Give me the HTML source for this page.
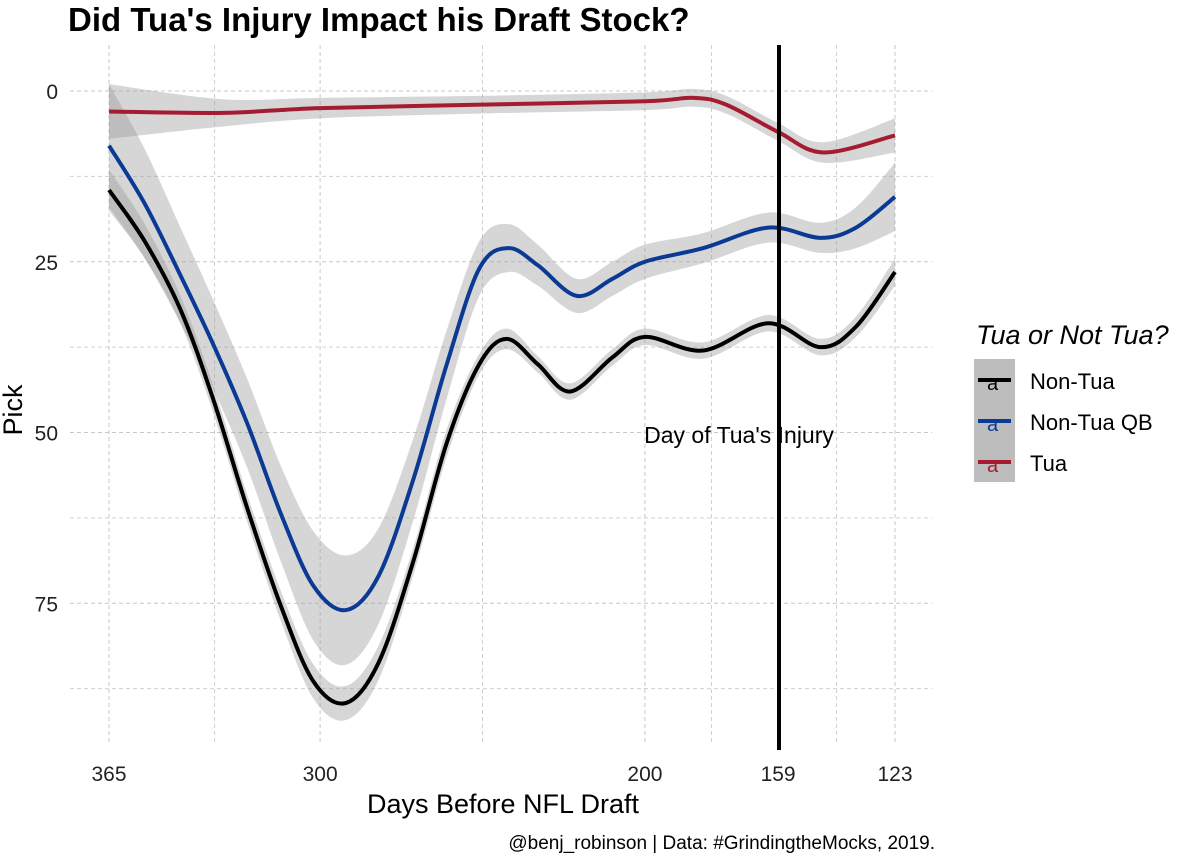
<!DOCTYPE html>
<html><head><meta charset="utf-8"><style>
body{margin:0;background:#fff;font-family:"Liberation Sans",sans-serif;}
svg text{font-family:"Liberation Sans",sans-serif;}
</style></head><body>
<svg id="chart" width="1200" height="857" xmlns="http://www.w3.org/2000/svg">
<text x="68" y="31" font-size="33" font-weight="bold" fill="#000">Did Tua's Injury Impact his Draft Stock?</text>
<g id="grid"></g><g id="ribbons"></g><g id="lines"></g><g id="axes"></g>
<line x1="779" y1="45" x2="779" y2="750" stroke="#000" stroke-width="4"/>
<text x="739" y="443" font-size="23" text-anchor="middle" fill="#000">Day of Tua's Injury</text>
<text x="503" y="813" font-size="27" text-anchor="middle">Days Before NFL Draft</text>
<text x="22" y="410" font-size="27" text-anchor="middle" transform="rotate(-90 22 410)">Pick</text>
<text x="935" y="849" font-size="19" text-anchor="end">@benj_robinson | Data: #GrindingtheMocks, 2019.</text>
<g>
<text x="976" y="344" font-size="27" font-style="italic">Tua or Not Tua?</text>
<rect x="974" y="359" width="41" height="123" fill="#bdbdbd"/>
<g><line x1="978" x2="1011" y1="380" y2="380" stroke="#000" stroke-width="4"/><text x="987" y="390" font-size="20" fill="#000">a</text><text x="1030" y="389" font-size="22">Non-Tua</text></g>
<g><line x1="978" x2="1011" y1="421" y2="421" stroke="#0a3a94" stroke-width="4"/><text x="987" y="431" font-size="20" fill="#0a3a94">a</text><text x="1030" y="430" font-size="22">Non-Tua QB</text></g>
<g><line x1="978" x2="1011" y1="462" y2="462" stroke="#a51c30" stroke-width="4"/><text x="987" y="472" font-size="20" fill="#a51c30">a</text><text x="1030" y="471" font-size="22">Tua</text></g>
</g>
</svg>
<script>
const xTicks=[365,300,200,159,123];
const xMinor=[332.5,250,179.5,141];
const yTicks=[0,25,50,75];
const yMinor=[12.5,37.5,62.5,87.5];
const tuaDays=[365,330,300,250,200,185,175,159,145,123];
const tuaPick=[3,3.2,2.5,2,1.5,1,2,6,9,6.5];
const tuaSe=[4,2,1.5,1.3,1.3,1.3,1.3,1.3,1.5,2.5];
const qbDays=[365,354,343,333,322.5,312,302,292,282,271.4,261,251,242,233,221,210,200,182,162,146,135,123];
const qbPick=[8,16.5,27,37,48.6,62,72.5,76,71,57,40,26,23,25.5,30,27.5,25,23,20,21.5,20,15.5];
const qbSe=[9,8,7,6.5,6.5,7,8,8,7,6,5,4,3.5,3,2.5,2.5,2.5,2.2,2.2,2.2,3,5];
const ntDays=[365,354,343,333,322.5,312,302,292,282,271.4,261,251,242.5,233,223,210,200,182,162,146,135,123];
const ntPick=[14.5,22,32,45,61,75.5,86.5,89.6,83.7,69,51.5,40,36.3,40,44,39,36,38,34,37.5,34.5,26.5];
const ntSe=[3,2.5,2,2,2,2.2,2.5,2.5,2.5,2,2,1.5,1.5,1.2,1.2,1.2,1.2,1.2,1.2,1.2,1.5,2];
const NS='http://www.w3.org/2000/svg';
const X=d=>109+(365-d)*3.248;
const Y=p=>91+p*6.83;
function mk(tag,attrs,parent){const e=document.createElementNS(NS,tag);for(const k in attrs)e.setAttribute(k,attrs[k]);parent.appendChild(e);return e;}
function path(pts){let s='M'+pts[0][0]+','+pts[0][1];for(let i=0;i<pts.length-1;i++){const p0=pts[i-1]||pts[i],p1=pts[i],p2=pts[i+1],p3=pts[i+2]||p2;s+=' C'+(p1[0]+(p2[0]-p0[0])/6)+','+(p1[1]+(p2[1]-p0[1])/6)+' '+(p2[0]-(p3[0]-p1[0])/6)+','+(p2[1]-(p3[1]-p1[1])/6)+' '+p2[0]+','+p2[1];}return s;}
const g=document.getElementById('grid'),ax=document.getElementById('axes');
yMinor.forEach(v=>{const l=mk('line',{x1:70,x2:932,y1:Y(v),y2:Y(v),stroke:'#d0d0d0','stroke-dasharray':'4,3'},g);});
xMinor.forEach(v=>{const l=mk('line',{x1:X(v),x2:X(v),y1:45,y2:745,stroke:'#d0d0d0','stroke-dasharray':'4,3'},g);});
yTicks.forEach(v=>{const l=mk('line',{x1:70,x2:932,y1:Y(v),y2:Y(v),stroke:'#c8c8c8','stroke-dasharray':'4,3'},g);
const t=mk('text',{x:58,y:Y(v)+8,'font-size':21,'text-anchor':'end',fill:'#222'},ax);t.textContent=v;});
xTicks.forEach(v=>{const l=mk('line',{x1:X(v),x2:X(v),y1:45,y2:745,stroke:'#c8c8c8','stroke-dasharray':'4,3'},g);
const t=mk('text',{x:X(v),y:781,'font-size':21,'text-anchor':'middle',fill:'#222'},ax);t.textContent=v;});
const series=[['non-tua',ntDays,ntPick,ntSe,'#000'],['non-tua-qb',qbDays,qbPick,qbSe,'#0a3a94'],['tua',tuaDays,tuaPick,tuaSe,'#a51c30']];
const rg=document.getElementById('ribbons'),lg=document.getElementById('lines');
series.forEach(([n,d,p,se,c])=>{
 const up=d.map((v,i)=>[X(v),Y(p[i]-se[i])]),lo=d.map((v,i)=>[X(v),Y(p[i]+se[i])]).reverse();
 const rp=path(up)+' L'+path(lo).slice(1)+' Z';
 const r=mk('path',{d:rp,fill:'#999','fill-opacity':0.4},rg);
 
 const l=mk('path',{d:path(d.map((v,i)=>[X(v),Y(p[i])])),fill:'none',stroke:c,'stroke-width':4},lg);
 
});
</script>
</body></html>
